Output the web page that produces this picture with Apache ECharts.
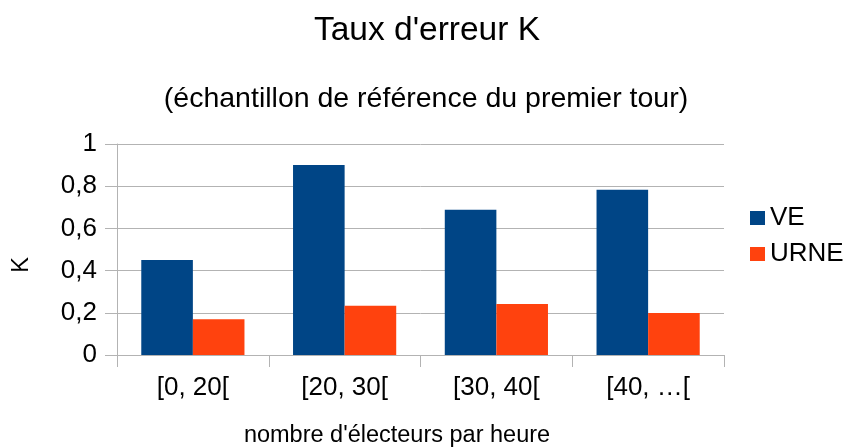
<!DOCTYPE html>
<html><head><meta charset="utf-8">
<script src="https://cdn.jsdelivr.net/npm/echarts@6/dist/echarts.min.js"></script>
<style>html,body{margin:0;padding:0;background:#fff}#c{width:850px;height:448px}</style>
</head><body><div id="c"></div>
<script>
const categories = ["[0, 20[", "[20, 30[", "[30, 40[", "[40, …["];
const seriesVE = [0.45, 0.90, 0.688, 0.783];
const seriesURNE = [0.17, 0.233, 0.242, 0.199];
const yTicks = [0, 0.2, 0.4, 0.6, 0.8, 1];
const FONT = "Liberation Sans";
const chart = echarts.init(document.getElementById('c'), null, {renderer: 'canvas'});
chart.setOption({
  animation: false,
  textStyle: {fontFamily: FONT},
  title: [
    {text: "Taux d'erreur K", left: 422, top: 9, textAlign: 'center',
     textStyle: {fontFamily: FONT, fontSize: 33.5, fontWeight: 'normal', color: '#000'}},
    {text: "(échantillon de référence du premier tour)", left: 421, top: 80, textAlign: 'center',
     textStyle: {fontFamily: FONT, fontSize: 28.5, fontWeight: 'normal', color: '#000'}},
    {text: "nombre d'électeurs par heure", left: 392, top: 419, textAlign: 'center',
     textStyle: {fontFamily: FONT, fontSize: 23.5, fontWeight: 'normal', color: '#000'}}
  ],
  graphic: [
    {type: 'text', x: 22, y: 265, rotation: Math.PI / 2,
     style: {text: 'K', fontFamily: FONT, fontSize: 23.5, fill: '#000', align: 'center', verticalAlign: 'middle'}}
  ],
  legend: {
    orient: 'vertical', left: 745, top: 200, itemWidth: 15, itemHeight: 14, itemGap: 10,
    icon: 'rect',
    textStyle: {fontFamily: FONT, fontSize: 26, color: '#000', padding: [0,0,0,0]},
    data: ['VE', 'URNE']
  },
  grid: {left: 117, right: 126, top: 144, bottom: 93},
  xAxis: {
    type: 'category', data: categories,
    axisLine: {lineStyle: {color: '#b3b3b3', width: 1}},
    axisTick: {show: true, length: 12, lineStyle: {color: '#b3b3b3'}},
    axisLabel: {fontFamily: FONT, fontSize: 26, color: '#000', margin: 20}
  },
  yAxis: {
    type: 'value', min: 0, max: 1, interval: 0.2,
    axisLine: {show: true, lineStyle: {color: '#b3b3b3', width: 1}},
    axisTick: {show: true, length: 12, lineStyle: {color: '#b3b3b3'}},
    splitLine: {lineStyle: {color: '#b3b3b3', width: 1}},
    axisLabel: {fontFamily: FONT, fontSize: 26, color: '#000', margin: 20,
      formatter: v => String(Math.round(v*10)/10).replace('.', ',')}
  },
  series: [
    {name: 'VE', type: 'bar', data: seriesVE, barGap: '0%', barCategoryGap: '32%',
     itemStyle: {color: '#004586'}},
    {name: 'URNE', type: 'bar', data: seriesURNE, barGap: '0%', barCategoryGap: '32%',
     itemStyle: {color: '#ff420e'}}
  ]
});
</script></body></html>
